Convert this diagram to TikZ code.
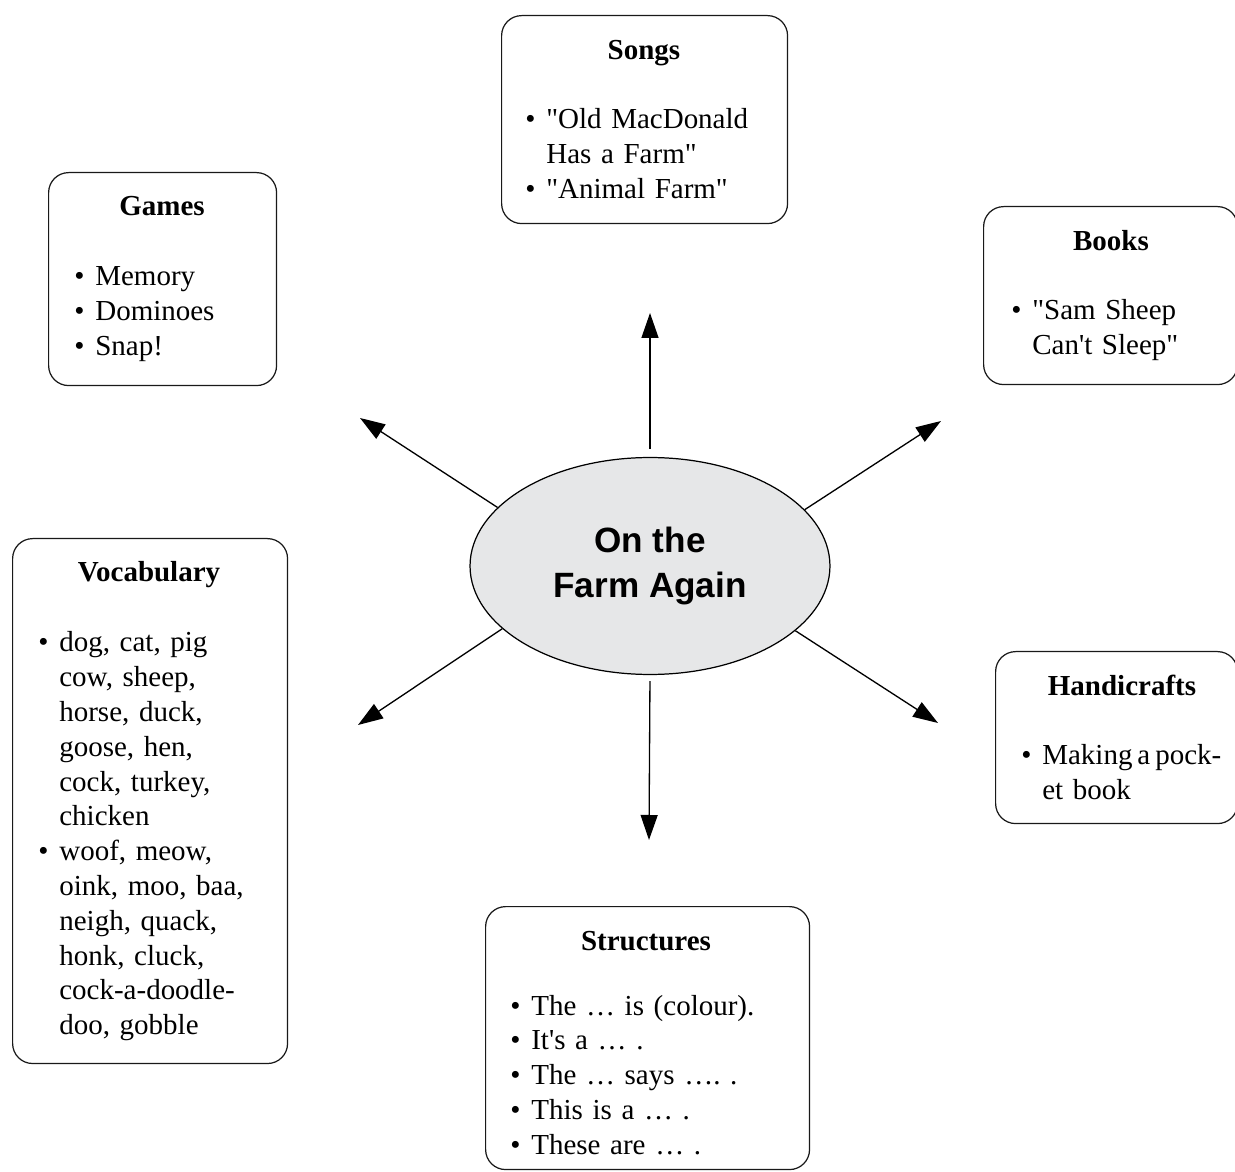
\documentclass[tikz,border=0pt]{standalone}
\usepackage{fontspec}
\setmainfont{Liberation Serif}[Ligatures=TeXOff]
\newfontfamily\hubfont{Liberation Sans}
\usetikzlibrary{arrows.meta}
\usetikzlibrary{shapes.geometric}
\definecolor{hubgray}{RGB}{230,231,232}
\newcommand{\itm}{\makebox[0.42cm][l]{\textbullet}}
\newcommand{\ind}{\hspace*{0.42cm}}
\newcommand{\tightsp}{\spaceskip 0.17em\relax}
\frenchspacing

\begin{document}
\begin{tikzpicture}[x=0.02cm, y=-0.02cm,
  box/.style={draw=black!90, line width=0.7pt, rounded corners=0.4cm, anchor=north west, inner sep=0},
  head/.style={anchor=base, inner sep=0, font=\fontsize{16.5}{19.8}\selectfont\bfseries},
  items/.style={anchor=base west, inner sep=0, text width=6cm, align=left,
    font=\fontsize{16.5}{19.8}\selectfont},
  arr/.style={->, >={Triangle[length=0.5cm, width=0.34cm]}, line width=0.75pt}]
\useasboundingbox (0,0) rectangle (1235,1172);

\node[ellipse, draw=black, line width=0.7pt, fill=hubgray, minimum width=7.2cm, minimum height=4.34cm, inner sep=0, align=center,
  font=\hubfont\bfseries\fontsize{20}{25.6}\selectfont] (hub) at (650,566) {On the\\Farm Again};

\node[box, minimum width=5.72cm, minimum height=4.16cm] (songs) at (501,15) {};
\node[head] (songsT) at (644,60) {Songs};
\node[items] (songsL) at (525,129) {\itm"Old MacDonald\\\ind Has a Farm"\\\itm"Animal Farm"};

\node[box, minimum width=4.56cm, minimum height=4.26cm] (games) at (48,172) {};
\node[head] (gamesT) at (162,216) {Games};
\node[items] (gamesL) at (74,286) {\itm Memory\\\itm Dominoes\\\itm Snap!};

\node[box, minimum width=5.08cm, minimum height=3.56cm] (books) at (983,206) {};
\node[head] (booksT) at (1111,251) {Books};
\node[items] (booksL) at (1011,320) {\itm"Sam Sheep\\\ind Can't Sleep"};

\node[box, minimum width=5.5cm, minimum height=10.5cm] (vocab) at (12,538) {};
\node[head] (vocabT) at (149,582) {Vocabulary};
\node[items] (vocabL) at (38,652) {\itm dog, cat, pig\\\ind cow, sheep,\\\ind horse, duck,\\\ind goose, hen,\\\ind cock, turkey,\\\ind chicken\\\itm woof, meow,\\\ind oink, moo, baa,\\\ind neigh, quack,\\\ind honk, cluck,\\\ind cock-a-doodle-\\\ind doo, gobble};

\node[box, minimum width=4.84cm, minimum height=3.44cm] (hand) at (995,651) {};
\node[head] (handT) at (1122,695) {Handicrafts};
\node[items] (handL) at (1021,765) {\itm{\tightsp Making a pock-}\\\ind et book};

\node[box, minimum width=6.48cm, minimum height=5.26cm] (struct) at (485,906) {};
\node[head] (structT) at (646,950) {Structures};
\node[items] (structL) at (510,1015) {\itm The … is (colour).\\\itm It's a … .\\\itm The … says …. .\\\itm This is a … .\\\itm These are … .};

\coordinate (tipS) at (650,313);
\coordinate (tipG) at (360,418);
\coordinate (tipB) at (941,421);
\coordinate (tipV) at (358,725);
\coordinate (tipH) at (938,723);
\coordinate (tipT) at (649,840);
\draw[arr, shorten <=0.16cm] (hub.north) -- (tipS);
\draw[arr] (hub.159) -- (tipG);
\draw[arr] (hub.20) -- (tipB);
\draw[arr] (hub.203) -- (tipV);
\draw[arr] (hub.336) -- (tipH);
\draw[arr, shorten <=0.12cm] (hub.south) -- (tipT);
\end{tikzpicture}
\end{document}
